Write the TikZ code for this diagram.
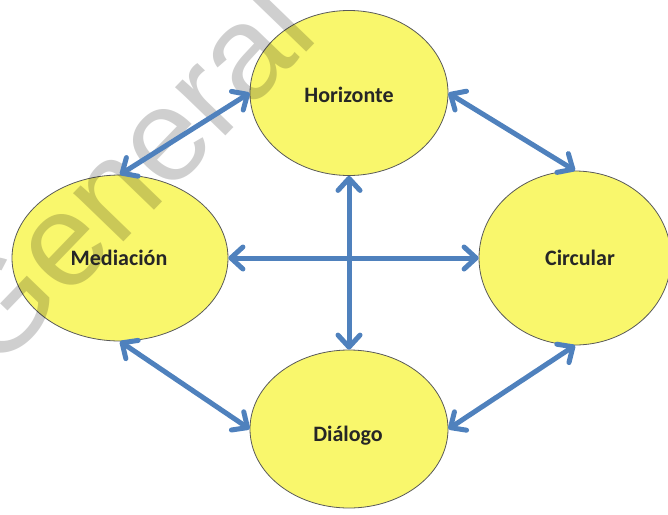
\documentclass[tikz,border=0pt]{standalone}
\usepackage{fontspec}
\setmainfont{Carlito}
\newfontfamily\marcafont{Liberation Sans}
\usetikzlibrary{shapes.geometric,arrows.meta}
\definecolor{amarillo}{RGB}{249,247,108}
\definecolor{azul}{RGB}{79,129,189}
\tikzset{
  burbuja/.style={ellipse,draw=black!65,line width=0.8pt,fill=amarillo,inner sep=0pt},
  flecha/.style={draw=azul,line width=5pt,line cap=round,
    {Straight Barb[round,length=12pt,width=22pt]}-{Straight Barb[round,length=12pt,width=22pt]}},
  etiqueta/.style={anchor=base,font=\bfseries\fontsize{22}{22}\selectfont,text=black!85}
}

\begin{document}
\begin{tikzpicture}[x=1pt,y=-1pt]
        \useasboundingbox (0,0) rectangle (668,514);
        \clip (0,0) rectangle (668,514);
        % burbujas
        \node[burbuja,minimum width=198pt,minimum height=165pt] (horizonte) at (349,93) {};
        \node[burbuja,minimum width=216pt,minimum height=166pt] (mediacion) at (120,258) {};
        \node[burbuja,minimum width=192pt,minimum height=174pt] (circular) at (575,258) {};
        \node[burbuja,minimum width=198pt,minimum height=158pt] (dialogo) at (349,429) {};
        % marca de agua
        \begin{scope}[blend mode=multiply]
        \node[anchor=base west,rotate=46,inner sep=0pt,text=black!19,
              font=\marcafont\fontsize{132}{132}\selectfont] (marca) at (-5,375) {General C};
        \end{scope}
        % flechas
        \draw[flecha] (mediacion.north) -- (horizonte.west);
        \draw[flecha] (horizonte.east) -- (circular.north);
        \draw[flecha] (mediacion.south) -- (dialogo.west);
        \draw[flecha] (dialogo.east) -- (circular.south);
        \draw[flecha] (mediacion.east) -- (circular.west);
        \draw[flecha] (horizonte.south) -- (dialogo.north);
        % textos
        \node[etiqueta] (thorizonte) at (349,102) {Horizonte};
        \node[etiqueta] (tmediacion) at (119,265) {Mediación};
        \node[etiqueta] (tcircular) at (580,265) {Circular};
        \node[etiqueta] (tdialogo) at (348,441) {Diálogo};
\end{tikzpicture}
\end{document}
